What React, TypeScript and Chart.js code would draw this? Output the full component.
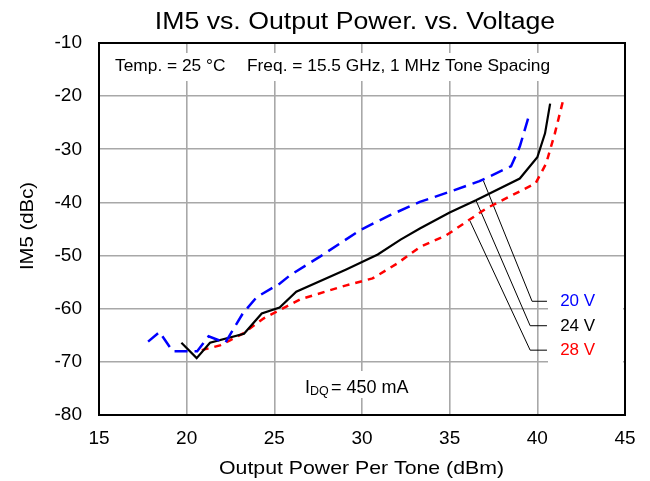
import React, { useEffect, useRef } from "react";
import { Chart, registerables } from "chart.js";

Chart.register(...registerables);

// ---- data ----
const xTicksMin = 15;
const xTicksMax = 45;
const yTicksMin = -80;
const yTicksMax = -10;

const v20X = [17.8, 18.45, 19.2, 20.6, 21.25, 22.2, 23.2, 24.0, 25.3, 25.9, 27.6, 29.9, 31.6, 33.3, 35.0, 36.7, 38.5, 39.0, 39.5];
const v20Y = [-66.2, -64.4, -68.0, -68.0, -65.2, -66.4, -60.9, -57.8, -55.3, -53.7, -50.2, -45.2, -42.4, -39.9, -38.0, -36.0, -33.2, -29.5, -23.9];

const v24X = [19.7, 20.57, 21.33, 23.27, 24.28, 25.3, 26.25, 29.1, 30.9, 32.2, 33.3, 35.0, 36.5, 39.0, 40.0, 40.44, 40.73];
const v24Y = [-66.4, -69.3, -66.4, -64.7, -60.9, -59.8, -56.8, -52.6, -49.8, -47.0, -44.9, -41.9, -39.6, -35.5, -31.5, -27.0, -21.4];

const v28X = [20.86, 21.9, 22.5, 23.2, 24.4, 26.5, 29.1, 30.6, 32.0, 33.3, 34.8, 37.1, 39.9, 40.5, 41.0, 41.5];
const v28Y = [-67.8, -66.9, -65.9, -64.7, -61.8, -58.2, -55.6, -54.3, -51.5, -48.4, -46.2, -41.1, -36.4, -32.7, -27.0, -20.4];

// leader lines (data coordinates)
const lead20X = [36.92, 39.7, 40.55];
const lead20Y = [-35.9, -58.6, -58.6];
const lead24X = [36.5, 39.59, 40.55];
const lead24Y = [-39.6, -63.2, -63.2];
const lead28X = [36.16, 39.59, 40.55];
const lead28Y = [-43.5, -67.8, -67.8];

const seriesLabels = ["20 V", "24 V", "28 V"];
const labelX = 41.3;
const labelY = [-58.6, -63.2, -67.8];

const titleText = "IM5 vs. Output Power. vs. Voltage";
const xTitle = "Output Power Per Tone (dBm)";
const yTitle = "IM5 (dBc)";
const noteTemp = "Temp. = 25 °C";
const noteFreq = "Freq. = 15.5 GHz, 1 MHz Tone Spacing";

const pts = (xs: number[], ys: number[]) => xs.map((x, i) => ({ x, y: ys[i] }));

const FONT = "'Liberation Sans', Arial, sans-serif";

function drawStretched(
  ctx: CanvasRenderingContext2D,
  text: string,
  x: number,
  y: number,
  size: number,
  sx: number,
  align: "left" | "center" | "right",
  color: string
) {
  ctx.save();
  ctx.font = `${size}px ${FONT}`;
  ctx.fillStyle = color;
  ctx.textBaseline = "alphabetic";
  ctx.textAlign = "left";
  const w = ctx.measureText(text).width * sx;
  const left = align === "center" ? x - w / 2 : align === "right" ? x - w : x;
  ctx.translate(left, y);
  ctx.scale(sx, 1);
  ctx.fillText(text, 0, 0);
  ctx.restore();
}

const decorPlugin = {
  id: "decor",
  beforeDatasetsDraw(chart: any) {
    const ctx = chart.ctx as CanvasRenderingContext2D;
    ctx.save();
    ctx.fillStyle = "#ffffff";
    ctx.fillRect(102, 53, 462, 28);
    ctx.fillRect(300, 371, 113, 27);
    ctx.fillRect(548, 272, 75, 96);
    ctx.restore();
  },
  afterDatasetsDraw(chart: any) {
    const ctx = chart.ctx as CanvasRenderingContext2D;
    const { left, top, right, bottom } = chart.chartArea;
    const xs = chart.scales.x;
    const ys = chart.scales.y;
    // frame
    ctx.save();
    ctx.strokeStyle = "#000";
    ctx.lineWidth = 2;
    ctx.strokeRect(left, top, right - left, bottom - top);
    ctx.restore();

    // title
    drawStretched(ctx, titleText, 355, 29, 23, 1.16, "center", "#000");
    // x title
    drawStretched(ctx, xTitle, 361.5, 474, 18.5, 1.15, "center", "#000");
    // y title
    ctx.save();
    ctx.translate(33, 226);
    ctx.rotate(-Math.PI / 2);
    drawStretched(ctx, yTitle, 0, 0, 18.5, 1.1, "center", "#000");
    ctx.restore();

    // notes
    drawStretched(ctx, noteTemp, 115, 71, 17, 1.02, "left", "#000");
    drawStretched(ctx, noteFreq, 247, 71, 17, 1.02, "left", "#000");

    // IDQ
    drawStretched(ctx, "I", 305, 393, 18, 1.0, "left", "#000");
    drawStretched(ctx, "DQ", 310, 395, 12.5, 1.0, "left", "#000");
    drawStretched(ctx, "= 450 mA", 331, 393, 18, 1.0, "left", "#000");

    // series labels
    const colors = ["#0000ff", "#000000", "#ff0000"];
    seriesLabels.forEach((t, i) => {
      const px = xs.getPixelForValue(labelX);
      const py = ys.getPixelForValue(labelY[i]);
      drawStretched(ctx, t, px, py + 5, 17, 1.0, "left", colors[i]);
    });
  },
};

export default function App() {
  const ref = useRef<HTMLCanvasElement | null>(null);

  useEffect(() => {
    document.body.style.margin = "0";
    const canvas = ref.current;
    if (!canvas) return;
    const leader = (xs: number[], ys: number[]) => ({
      data: pts(xs, ys),
      borderColor: "#000",
      borderWidth: 1,
      pointRadius: 0,
      showLine: true,
      fill: false,
    });
    const chart = new Chart(canvas, {
      type: "scatter",
      data: {
        datasets: [
          {
            label: "20 V",
            data: pts(v20X, v20Y),
            borderColor: "#0000ff",
            borderWidth: 2.5,
            borderDash: [13, 7],
            pointRadius: 0,
            showLine: true,
            fill: false,
          },
          {
            label: "24 V",
            data: pts(v24X, v24Y),
            borderColor: "#000000",
            borderWidth: 2.2,
            pointRadius: 0,
            showLine: true,
            fill: false,
          },
          {
            label: "28 V",
            data: pts(v28X, v28Y),
            borderColor: "#ff0000",
            borderWidth: 2.5,
            borderDash: [7, 6],
            pointRadius: 0,
            showLine: true,
            fill: false,
          },
          leader(lead20X, lead20Y),
          leader(lead24X, lead24Y),
          leader(lead28X, lead28Y),
        ] as any,
      },
      options: {
        animation: false,
        responsive: false,
        maintainAspectRatio: false,
        layout: { padding: { top: 43, right: 25, left: 0, bottom: 0 } },
        plugins: {
          legend: { display: false },
          title: { display: false },
          tooltip: { enabled: false },
        },
        scales: {
          x: {
            type: "linear",
            min: xTicksMin,
            max: xTicksMax,
            ticks: {
              stepSize: 5,
              color: "#000",
              font: { family: FONT, size: 19 },
              padding: 12,
              maxRotation: 0,
            },
            grid: { color: "#a8a8a8", lineWidth: 1.6, drawTicks: false },
            border: { display: false },
            afterFit: (s: any) => {
              s.height = 66;
            },
          },
          y: {
            type: "linear",
            min: yTicksMin,
            max: yTicksMax,
            ticks: {
              stepSize: 10,
              color: "#000",
              font: { family: FONT, size: 19 },
              padding: 17,
            },
            grid: { color: "#a8a8a8", lineWidth: 1.6, drawTicks: false },
            border: { display: false },
            afterFit: (s: any) => {
              s.width = 99;
            },
          },
        },
      } as any,
      plugins: [decorPlugin],
    });
    return () => chart.destroy();
  }, []);

  return (
    <div style={{ width: 650, height: 481 }}>
      <canvas ref={ref} width={650} height={481} style={{ display: "block" }} />
    </div>
  );
}
